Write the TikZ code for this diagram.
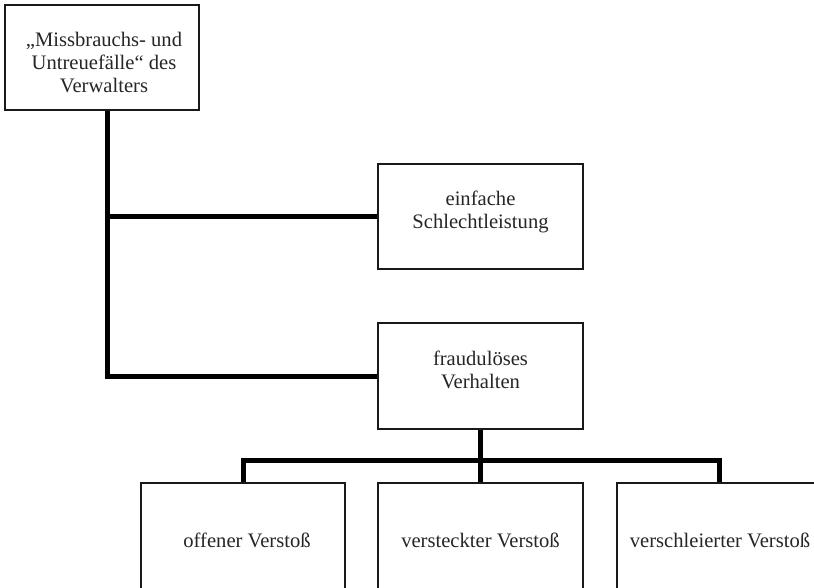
\documentclass[tikz,border=0pt]{standalone}
\usepackage{fontspec}
\setmainfont{Liberation Serif}
\begin{document}
\begin{tikzpicture}[x=1pt,y=-1pt,
  box/.style={draw=black!90, line width=1.5pt, fill=white, inner sep=0pt},
  txt/.style={align=center, inner sep=0pt, font=\fontsize{20.6}{23}\selectfont, text=black!85},
  conn/.style={line width=5pt, line join=miter}]
\useasboundingbox (0,0) rectangle (814,587);
% boxes
\node[box, minimum width=194pt, minimum height=105pt] (box1) at (102,57.5) {};
\node[box, minimum width=205pt, minimum height=105pt] (box2) at (480.5,216.5) {};
\node[box, minimum width=205pt, minimum height=106pt] (box3) at (480.5,376) {};
\node[box, minimum width=204pt, minimum height=120pt, anchor=north] (b4) at (243,482) {};
\node[box, minimum width=205pt, minimum height=120pt, anchor=north] (b5) at (480.5,482) {};
\node[box, minimum width=205pt, minimum height=120pt, anchor=north] (b6) at (719.5,482) {};
% texts
\node[txt] (t1) at (104,63) {„Missbrauchs- und\\Untreuefälle“ des\\Verwalters};
\node[txt] (t2) at (480.5,212) {einfache\\Schlechtleistung};
\node[txt] (t3) at (480.5,370) {fraudulöses\\Verhalten};
\node[txt] (t4) at (247,540) {offener Verstoß};
\node[txt] (t5) at (480.5,540) {versteckter Verstoß};
\node[txt] (t6) at (720,540) {verschleierter Verstoß};
% connectors
\coordinate (j1) at (107,216.5);
\draw[conn] (box1.south -| j1) |- (box3.west);
\draw[conn] (j1) -- (box2.west);
\draw[conn] (box3.south) -- (b5.north);
\draw[conn] (b4.north) -- ++(0,-22) -| (b6.north);
\end{tikzpicture}
\end{document}
